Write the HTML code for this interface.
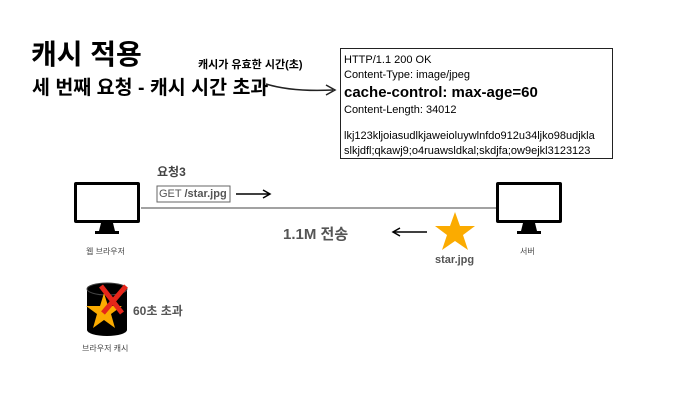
<!DOCTYPE html>
<html><head><meta charset="utf-8"><style>
body{margin:0;width:674px;height:412px;background:#fff;overflow:hidden;position:relative;font-family:"Liberation Sans","Noto Sans CJK KR",sans-serif}
.t{position:absolute;white-space:nowrap}
</style></head><body>
<div class="t" style="left:31px;top:33px;font-size:28px;font-weight:bold">캐시 적용</div>
<div class="t" style="left:32px;top:71px;font-size:19.5px;font-weight:bold">세 번째 요청 - 캐시 시간 초과</div>
<div class="t" style="left:198px;top:56px;font-size:11px;font-weight:bold">캐시가 유효한 시간(초)</div>
<div style="position:absolute;left:340px;top:48px;width:271px;height:109px;border:1.5px solid #222"></div>
<div class="t" style="left:344px;top:53px;font-size:11px;line-height:14px">HTTP/1.1 200 OK</div>
<div class="t" style="left:344px;top:69px;font-size:11px">Content-Type: image/jpeg</div>
<div class="t" style="left:344px;top:84px;font-size:15px;font-weight:bold">cache-control: max-age=60</div>
<div class="t" style="left:344px;top:104px;font-size:11px">Content-Length: 34012</div>
<div class="t" style="left:344px;top:130px;font-size:11px">lkj123kljoiasudlkjaweioluywlnfdo912u34ljko98udjkla</div>
<div class="t" style="left:344px;top:145px;font-size:11px">slkjdfl;qkawj9;o4ruawsldkal;skdjfa;ow9ejkl3123123</div>
<svg width="674" height="412" style="position:absolute;left:0;top:0">
<path d="M266 84 Q292 92 333 90" fill="none" stroke="#222" stroke-width="1.5"/>
<path d="M326 85 L335 90 L326 95" fill="none" stroke="#222" stroke-width="1.5"/>
<g id="m"><rect x="74" y="182" width="66" height="41" rx="2" fill="#000"/><rect x="77" y="185" width="60" height="35" fill="#fff"/><path d="M101 223 h12 l2 8 h4 v3 h-24 v-3 h4z" fill="#000"/></g>
<use href="#m" transform="translate(422,0)"/>
<line x1="141" y1="208" x2="496" y2="208" stroke="#444" stroke-width="1"/>
<rect x="157" y="186" width="73" height="16" fill="#fff" stroke="#666"/>
<line x1="236" y1="194" x2="269" y2="194" stroke="#000" stroke-width="1.5"/><path d="M263 190 L270 194 L263 198" fill="none" stroke="#000" stroke-width="1.5"/>
<line x1="394" y1="232" x2="427" y2="232" stroke="#000" stroke-width="1.5"/><path d="M400 228 L393 232 L400 236" fill="none" stroke="#000" stroke-width="1.5"/>
<polygon points="455,212 460,226 475,226 463,235 468,250 455,241 442,250 447,235 435,226 450,226" fill="#fbab00"/>
<path d="M87 289 v41 a20 6 0 0 0 40 0 v-41 a20 6 0 0 0 -40 0z" fill="#000"/>
<ellipse cx="107" cy="289" rx="20" ry="6" fill="#000" stroke="#444" stroke-width="1"/>
<polygon points="104,293 108,306 122,306 111,314 115,328 104,320 93,328 97,314 86,306 100,306" fill="#fbab00"/>
<line x1="101" y1="286" x2="122" y2="313" stroke="#e5261a" stroke-width="5"/>
<line x1="126" y1="286" x2="103" y2="313" stroke="#e5261a" stroke-width="5"/>
</svg>
<div class="t" style="left:157px;top:163px;font-size:12px;font-weight:bold;color:#444">요청3</div>
<div class="t" style="left:159px;top:188px;font-size:11px;color:#555">GET <b>/star.jpg</b></div>
<div class="t" style="left:283px;top:223px;font-size:15px;font-weight:bold;color:#555">1.1M 전송</div>
<div class="t" style="left:435px;top:254px;font-size:11px;font-weight:bold;color:#555">star.jpg</div>
<div class="t" style="left:86px;top:246px;font-size:8px;color:#444">웹 브라우저</div>
<div class="t" style="left:520px;top:246px;font-size:8px;color:#444">서버</div>
<div class="t" style="left:133px;top:302px;font-size:12px;font-weight:bold;color:#555">60초 초과</div>
<div class="t" style="left:82px;top:343px;font-size:8px;color:#444">브라우저 캐시</div>
</body></html>
